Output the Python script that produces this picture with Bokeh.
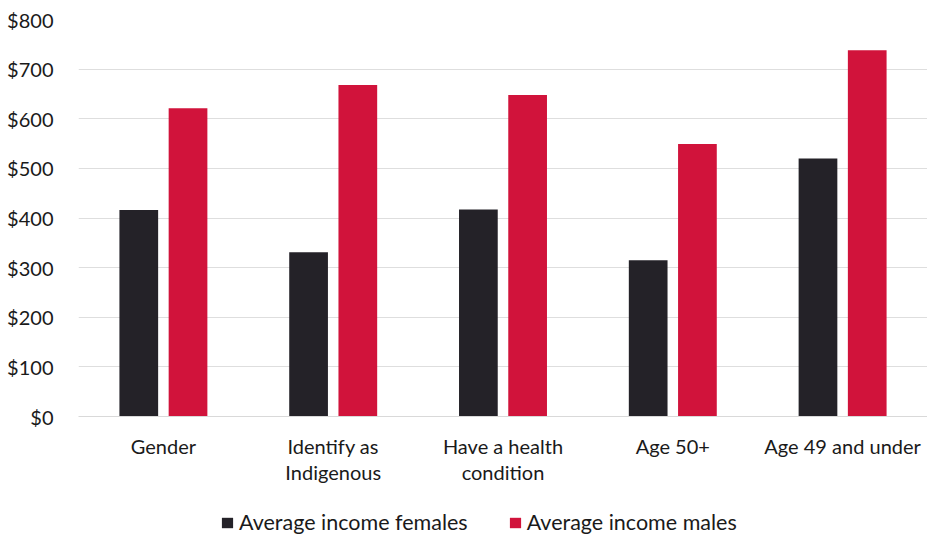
from bokeh.plotting import figure
from bokeh.layouts import column
from bokeh.models import FactorRange, Legend, LegendItem, NumeralTickFormatter, Range1d, SingleIntervalTicker
from bokeh.transform import dodge
from bokeh.embed import file_html
from bokeh.resources import INLINE

categories = ["Gender", "Identify as\nIndigenous", "Have a health\ncondition", "Age 50+", "Age 49 and under"]
females = [416, 331, 417, 315, 520]
males = [621, 668, 648, 549, 738]
series_names = ["Average income females", "Average income males"]
colors = ["#242228", "#d1133b"]

data = dict(cat=categories, f=females, m=males)

p = figure(x_range=FactorRange(*categories), y_range=Range1d(0, 800),
           width=927, height=500, output_backend="svg", toolbar_location=None,
           min_border_left=78, min_border_right=0, min_border_top=19, min_border_bottom=84)
p.outline_line_color = None
p.background_fill_color = "white"
p.border_fill_color = "white"

rf = p.vbar(x=dodge("cat", -0.145, range=p.x_range), top="f", width=0.228, source=data,
            fill_color=colors[0], line_color=None)
rm = p.vbar(x=dodge("cat", 0.145, range=p.x_range), top="m", width=0.228, source=data,
            fill_color=colors[1], line_color=None)

p.yaxis.ticker = SingleIntervalTicker(interval=100)
p.yaxis.formatter = NumeralTickFormatter(format="$0")
p.yaxis.axis_line_color = None
p.yaxis.major_tick_line_color = None
p.yaxis.minor_tick_line_color = None
p.yaxis.major_tick_out = 0
p.yaxis.major_label_text_font = "Lato"
p.yaxis.major_label_text_font_size = "20px"
p.yaxis.major_label_text_color = "#1a1a1a"
p.yaxis.major_label_standoff = 21

p.xaxis.axis_line_color = "#d9d9d9"
p.xaxis.major_tick_line_color = None
p.xaxis.minor_tick_line_color = None
p.xaxis.major_tick_out = 0
p.xaxis.major_label_text_font = "Lato"
p.xaxis.major_label_text_font_size = "20px"
p.xaxis.major_label_text_color = "#1a1a1a"
p.xaxis.major_label_text_line_height = 1.12
p.xaxis.major_label_standoff = 17

p.xgrid.grid_line_color = None
p.ygrid.grid_line_color = "#dedede"
p.ygrid.grid_line_width = 1

# legend strip below the chart (its frame is aligned with the chart's frame)
lg = figure(x_range=Range1d(0, 1), y_range=Range1d(0, 1), width=927, height=35,
            output_backend="svg", toolbar_location=None,
            x_axis_location=None, y_axis_location=None,
            min_border_left=0, min_border_right=0, min_border_top=0, min_border_bottom=0)
lg.grid.visible = False
lg.outline_line_color = None
lg.border_fill_color = "white"
lg.background_fill_color = "white"
lf = lg.vbar(x=[0.5], top=[0], bottom=[0], width=0.0, fill_color=colors[0], line_color=None)
lm = lg.vbar(x=[0.5], top=[0], bottom=[0], width=0.0, fill_color=colors[1], line_color=None)

legend = Legend(items=[LegendItem(label=series_names[0], renderers=[lf]),
                       LegendItem(label=series_names[1], renderers=[lm])],
                orientation="horizontal", location=(142, 0),
                label_text_font="Lato", label_text_font_size="21.5px", label_text_color="#1a1a1a",
                glyph_width=14, glyph_height=13, spacing=40, label_standoff=5,
                border_line_color=None, background_fill_alpha=0, padding=0, margin=0)
lg.add_layout(legend, "center")

open("out.html", "w").write(file_html(column(p, lg, spacing=0), INLINE))
